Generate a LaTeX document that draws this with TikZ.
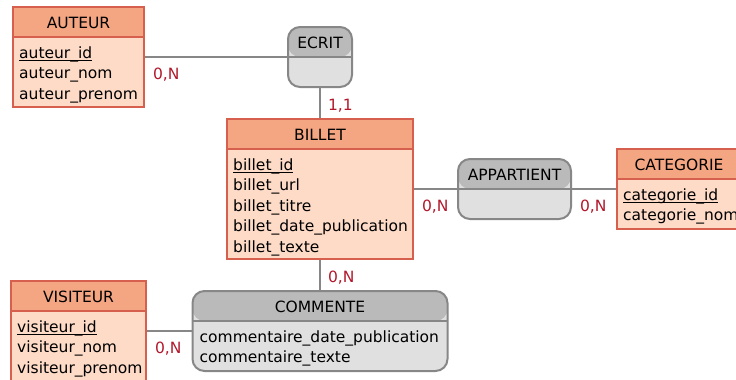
\documentclass[tikz,border=0pt]{standalone}
\usepackage{fontspec}
\setmainfont{DejaVu Sans}
\usetikzlibrary{positioning}

\definecolor{enttete}{HTML}{F4A582}
\definecolor{entcorps}{HTML}{FDDBC7}
\definecolor{entbord}{HTML}{D6604D}
\definecolor{assotete}{HTML}{BABABA}
\definecolor{assocorps}{HTML}{E0E0E0}
\definecolor{assobord}{HTML}{878787}
\definecolor{cardrouge}{HTML}{B2182B}

% identifiant souligne
\newcommand{\cle}[1]{\underline{\smash{#1}\vphantom{d}}}

\tikzset{entete/.style 2 args={path picture={
  \fill[#1] (path picture bounding box.north west) rectangle ([yshift=-30pt]path picture bounding box.north east);
  \draw[#2, line width=2pt] ([yshift=-30pt]path picture bounding box.north west) -- ([yshift=-30pt]path picture bounding box.north east);}}}
\tikzstyle{entite} = [rectangle, draw=entbord, line width=2pt, fill=entcorps, inner sep=0, entete={enttete}{entbord}]
\tikzstyle{asso} = [rectangle, draw=assobord, line width=2pt, rounded corners=12pt, fill=assocorps, inner sep=0, entete={assotete}{assobord}]
\tikzstyle{titre} = [anchor=base, inner sep=0]
\tikzstyle{attr} = [anchor=north west, align=left, inner sep=0]
\tikzstyle{card} = [text=cardrouge, anchor=base west, inner sep=0, xshift=7pt, yshift=-22pt]
\tikzstyle{lien} = [draw=assobord, line width=2pt]

\begin{document}
\begin{tikzpicture}[x=1pt, y=-1pt, font=\fontsize{15.5}{20.5}\selectfont]

\path [use as bounding box, clip] (0,0) rectangle (736,380);

% entites
\node [entite, minimum width=131pt, minimum height=100pt] (auteur) at (78.5,57) {};
\node [titre] (auteurT) at ([yshift=-22pt]auteur.north) {AUTEUR};
\node [attr] (auteurA) at ([xshift=7pt,yshift=-40.2pt]auteur.north west) {\cle{auteur\_id}\\auteur\_nom\\auteur\_prenom};

\node [entite, minimum width=186pt, minimum height=140pt] (billet) at (320,189) {};
\node [titre] (billetT) at ([yshift=-22pt]billet.north) {BILLET};
\node [attr] (billetA) at ([xshift=7pt,yshift=-40.2pt]billet.north west) {\cle{billet\_id}\\billet\_url\\billet\_titre\\billet\_date\_publication\\billet\_texte};

\node [entite, minimum width=124pt, minimum height=80pt] (categorie) at (679,189) {};
\node [titre] (categorieT) at ([yshift=-22pt]categorie.north) {CATEGORIE};
\node [attr] (categorieA) at ([xshift=7pt,yshift=-40.2pt]categorie.north west) {\cle{categorie\_id}\\categorie\_nom};

\node [entite, minimum width=135pt, minimum height=100pt] (visiteur) at (78.5,331) {};
\node [titre] (visiteurT) at ([yshift=-22pt]visiteur.north) {VISITEUR};
\node [attr] (visiteurA) at ([xshift=7pt,yshift=-40.2pt]visiteur.north west) {\cle{visiteur\_id}\\visiteur\_nom\\visiteur\_prenom};

% associations
\node [asso, minimum width=64pt, minimum height=60pt] (ecrit) at (320,57) {};
\node [titre] (ecritT) at ([yshift=-22pt]ecrit.north) {ECRIT};

\node [asso, minimum width=113pt, minimum height=60pt] (appartient) at (514.5,189) {};
\node [titre] (appartientT) at ([yshift=-22pt]appartient.north) {APPARTIENT};

\node [asso, minimum width=255pt, minimum height=80pt] (commente) at (320,331) {};
\node [titre] (commenteT) at ([yshift=-22pt]commente.north) {COMMENTE};
\node [attr] (commenteA) at ([xshift=8pt,yshift=-40.2pt]commente.north west) {commentaire\_date\_publication\\commentaire\_texte};

% liens et cardinalites
\path [lien] (auteur) -- (ecrit) node[card, at start] {0,N};
\path [lien] (ecrit) -- (billet) node[card, at start] {1,1};
\path [lien] (billet) -- (appartient) node[card, at start] {0,N};
\path [lien] (appartient) -- (categorie) node[card, at start] {0,N};
\path [lien] (billet) -- (commente) node[card, at start] {0,N};
\path [lien] (visiteur) -- (commente) node[card, at start] {0,N};

\end{tikzpicture}
\end{document}
